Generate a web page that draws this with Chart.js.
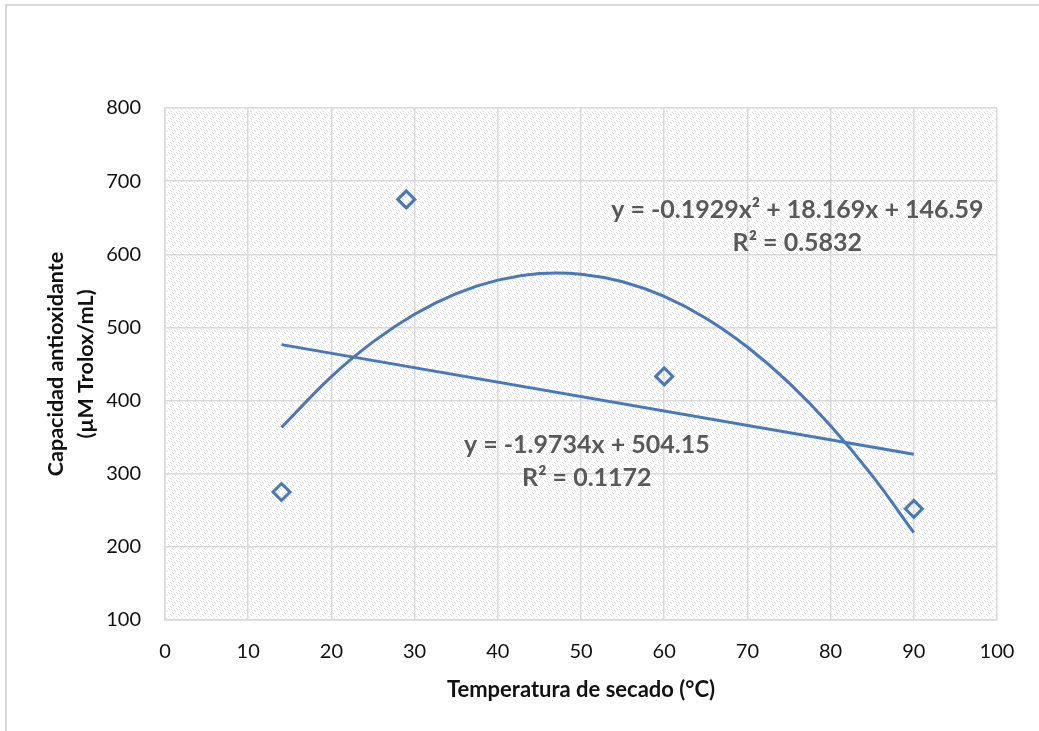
<!DOCTYPE html>
<html>
<head>
<meta charset="utf-8">
<script src="https://cdn.jsdelivr.net/npm/chart.js@4.4.0/dist/chart.umd.min.js"></script>
<style>
html,body{margin:0;padding:0;background:#ffffff;}
#wrap{width:1039px;height:731px;}
</style>
</head>
<body>
<div id="wrap"><canvas id="c" width="1039" height="731"></canvas></div>
<script>
// ---- data ----
const temperaturas = [14, 29, 60, 90];
const capacidad = [275, 675, 433, 252];

const linealX = [14, 90];
const linealY = [476.5, 326.5];

const polyX = [14, 20, 25, 30, 35, 40, 45, 50, 55, 60, 65, 70, 75, 80, 85, 90];
const polyY = [363.2, 432.8, 480.3, 518.1, 546.2, 564.7, 573.6, 572.8, 562.4, 542.3, 512.6, 473.2, 424.2, 365.6, 297.3, 219.3];

const xTicks = [0, 10, 20, 30, 40, 50, 60, 70, 80, 90, 100];
const yTicks = [100, 200, 300, 400, 500, 600, 700, 800];

const ecuacionPoly = ['y = -0.1929x² + 18.169x + 146.59', 'R² = 0.5832'];
const ecuacionLineal = ['y = -1.9734x + 504.15', 'R² = 0.1172'];
const tituloX = 'Temperatura de secado (°C)';
const tituloY = ['Capacidad antioxidante', '(µM Trolox/mL)'];

// ---- styles ----
const BLUE = '#4677bf';
const GRID = '#d9d9d9';
const FONT = 'Lato, "Open Sans", "Liberation Sans", sans-serif';

function makePattern(ctx) {
  const p = document.createElement('canvas');
  p.width = 8; p.height = 8;
  const g = p.getContext('2d');
  g.fillStyle = '#ffffff';
  g.fillRect(0, 0, 8, 8);
  g.fillStyle = '#d2d2d2';
  for (let i = 0; i < 8; i++) {
    for (let j = 0; j < 8; j++) {
      if (((i - j + 16) % 4 === 0) && (Math.floor((i + j) / 2) % 4 === 0)) g.fillRect(i, j, 1, 1);
      if (((i - j + 16) % 4 === 0) && (Math.floor((i + j) / 2) % 4 === 1)) g.fillRect(i, j, 1, 1);
    }
  }
  return ctx.createPattern(p, 'repeat');
}

const backgroundPlugin = {
  id: 'bg',
  beforeDraw(chart) {
    const {ctx, chartArea} = chart;
    ctx.save();
    ctx.strokeStyle = GRID;
    ctx.lineWidth = 2;
    ctx.strokeRect(6, 5, 1200, 1200);
    ctx.fillStyle = makePattern(ctx);
    ctx.globalAlpha = 0.8;
    ctx.fillRect(chartArea.left, chartArea.top, chartArea.right - chartArea.left, chartArea.bottom - chartArea.top);
    ctx.restore();
  }
};

const labelsPlugin = {
  id: 'eqLabels',
  afterDatasetsDraw(chart, args, opts) {
    const {ctx, scales} = chart;
    ctx.save();
    ctx.font = 'bold ' + opts.size + 'px ' + FONT;
    ctx.fillStyle = '#595959';
    ctx.textAlign = 'center';
    ctx.textBaseline = 'middle';
    opts.items.forEach(it => {
      const x = scales.x.getPixelForValue(it.at[0]);
      const y = scales.y.getPixelForValue(it.at[1]);
      it.lines.forEach((t, i) => ctx.fillText(t, x, y + i * opts.spacing));
    });
    ctx.restore();
  }
};

const ctx = document.getElementById('c').getContext('2d');
new Chart(ctx, {
  type: 'scatter',
  data: {
    datasets: [
      {
        label: 'Datos',
        data: temperaturas.map((t, i) => ({x: t, y: capacidad[i]})),
        pointStyle: 'rectRot',
        pointRadius: 8.5,
        pointBorderWidth: 3,
        pointBorderColor: BLUE,
        pointBackgroundColor: 'rgba(0,0,0,0)',
        showLine: false,
        order: 0
      },
      {
        label: 'Lineal',
        data: linealX.map((t, i) => ({x: t, y: linealY[i]})),
        showLine: true,
        borderColor: BLUE,
        borderWidth: 3,
        pointRadius: 0,
        order: 1
      },
      {
        label: 'Polinómica',
        data: polyX.map((t, i) => ({x: t, y: polyY[i]})),
        showLine: true,
        borderColor: BLUE,
        borderWidth: 3,
        pointRadius: 0,
        tension: 0.4,
        order: 2
      }
    ]
  },
  options: {
    responsive: false,
    devicePixelRatio: 1,
    animation: false,
    layout: {padding: {top: 108, right: 42, left: 0, bottom: 0}},
    plugins: {
      legend: {display: false},
      tooltip: {enabled: false},
      eqLabels: {
        size: 25,
        spacing: 33,
        items: [
          {at: [76, 660.5], lines: ecuacionPoly},
          {at: [50.7, 339], lines: ecuacionLineal}
        ]
      }
    },
    scales: {
      x: {
        type: 'linear',
        min: 0, max: 100,
        afterBuildTicks: s => { s.ticks = xTicks.map(v => ({value: v})); },
        afterFit: s => { s.height = 111; },
        grid: {color: GRID, lineWidth: 1.5, drawTicks: false},
        border: {color: GRID, width: 1.5},
        ticks: {color: '#111111', padding: 20, font: {family: FONT, size: 20}, maxRotation: 0},
        title: {display: true, text: tituloX, color: '#111111', padding: {top: 0, bottom: 28}, font: {family: FONT, size: 22, weight: 'bold'}}
      },
      y: {
        type: 'linear',
        min: 100, max: 800,
        afterBuildTicks: s => { s.ticks = yTicks.map(v => ({value: v})); },
        afterFit: s => { s.width = 165; },
        grid: {color: GRID, lineWidth: 1.5, drawTicks: false},
        border: {color: GRID, width: 1.5},
        ticks: {color: '#111111', padding: 24, font: {family: FONT, size: 20}},
        title: {display: true, text: tituloY, color: '#111111', padding: {top: 41, bottom: 0}, font: {family: FONT, size: 21.5, weight: 'bold', lineHeight: '30px'}}
      }
    }
  },
  plugins: [backgroundPlugin, labelsPlugin]
});
</script>
</body>
</html>
